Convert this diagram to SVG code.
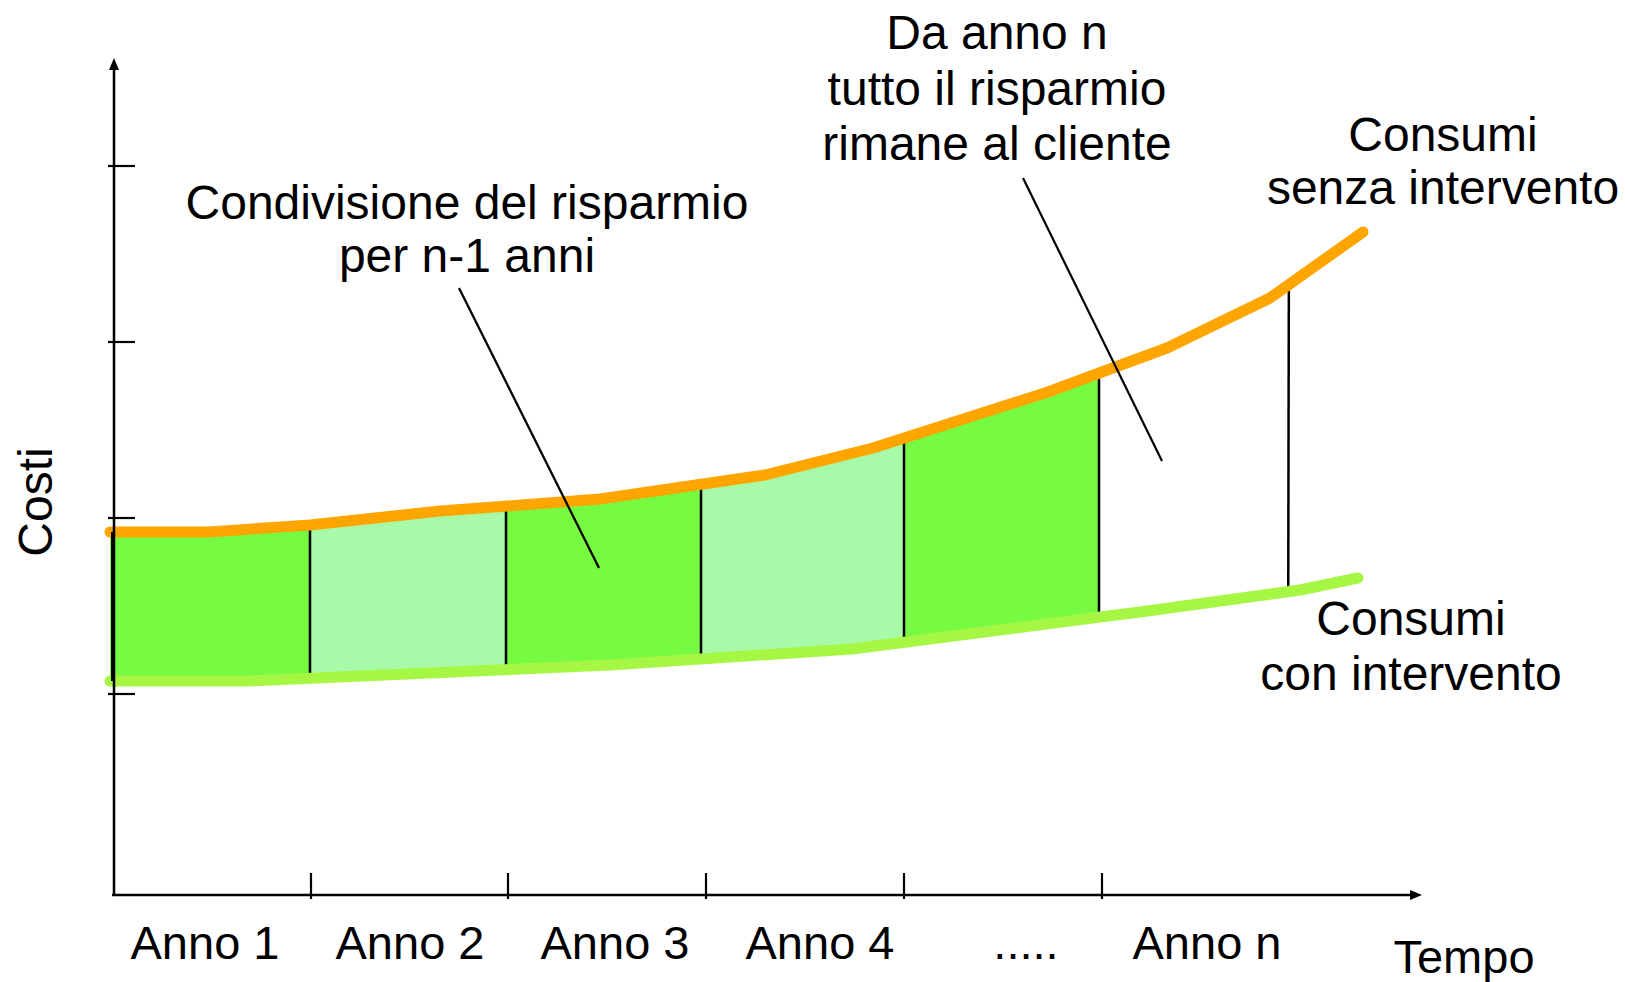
<svg xmlns="http://www.w3.org/2000/svg" width="1625" height="982" viewBox="0 0 1625 982">
<style>
text{font-family:"Liberation Sans",Arial,sans-serif;font-size:48px;fill:#000;text-anchor:middle}
.yr{font-size:47px}
.ax{stroke:#000;stroke-width:2.5;fill:none}
.div{stroke:#000;stroke-width:2.5}
.lead{stroke:#000;stroke-width:2.2}
.bright{fill:#76FA42}
.light{fill:#A7FAA7}
.curve{fill:none;stroke-width:11;stroke-linecap:round;stroke-linejoin:round}
</style>
<defs>
<clipPath id="band">
<polygon points="110,532 208,532 310,525 440,511 508,506 600,499 765,475 873,448 1048,392 1110,369 1167,348 1270,298 1363,232 1358,578 1300,590 1140,612 1100,617 852,649 610,665 247,681 110,681"/>
</clipPath>
</defs>
<rect width="1625" height="982" fill="#fff"/>
<g id="band-fill" clip-path="url(#band)">
<rect class="bright" x="110" y="200" width="200" height="520"/>
<rect class="light" x="310" y="200" width="196" height="520"/>
<rect class="bright" x="506" y="200" width="195" height="520"/>
<rect class="light" x="701" y="200" width="203" height="520"/>
<rect class="bright" x="904" y="200" width="195" height="520"/>
<line class="div" x1="310" y1="200" x2="310" y2="720"/>
<line class="div" x1="506" y1="200" x2="506" y2="720"/>
<line class="div" x1="701" y1="200" x2="701" y2="720"/>
<line class="div" x1="904" y1="200" x2="904" y2="720"/>
<line class="div" x1="1099" y1="200" x2="1099" y2="720"/>
<line class="div" x1="1289" y1="200" x2="1288" y2="720" stroke-width="2"/>
</g>
<g id="curve-senza">
<polyline class="curve" stroke="#FFA500" points="110,532 208,532 310,525 440,511 508,506 600,499 765,475 873,448 1048,392 1110,369 1167,348 1270,298 1363,232"/>
</g>
<g id="curve-con">
<polyline class="curve" stroke="#A6F743" points="110,681 247,681 610,665 852,649 1100,617 1140,612 1300,590 1358,578"/>
</g>
<g id="connectors">
<line class="lead" x1="459" y1="288" x2="599" y2="568"/>
<line class="lead" x1="1023" y1="178" x2="1162" y2="461"/>
</g>
<g id="axes">
<line class="ax" x1="114" y1="895" x2="114" y2="68"/>
<polygon points="114,58 109,70 119,70" fill="#000"/>
<line x1="113" y1="532" x2="113" y2="681" stroke="#000" stroke-width="4"/>
<line class="ax" x1="112" y1="895" x2="1412" y2="895"/>
<polygon points="1422,895 1410,890 1410,900" fill="#000"/>
<g stroke="#000" stroke-width="2.2">
<line x1="108" y1="166" x2="135" y2="166"/>
<line x1="108" y1="342" x2="135" y2="342"/>
<line x1="108" y1="518" x2="135" y2="518"/>
<line x1="108" y1="694" x2="135" y2="694"/>
<line x1="311" y1="873" x2="311" y2="899"/>
<line x1="508" y1="873" x2="508" y2="899"/>
<line x1="706" y1="873" x2="706" y2="899"/>
<line x1="904" y1="873" x2="904" y2="899"/>
<line x1="1102" y1="873" x2="1102" y2="899"/>
</g>
</g>
<g id="labels">
<text x="52" y="502" transform="rotate(-90 52 502)">Costi</text>
<text class="yr" x="205" y="959">Anno 1</text>
<text class="yr" x="410" y="959">Anno 2</text>
<text class="yr" x="615" y="959">Anno 3</text>
<text class="yr" x="820" y="959">Anno 4</text>
<text class="yr" x="1026" y="959">.....</text>
<text class="yr" x="1207" y="959">Anno n</text>
<text class="yr" x="1464" y="973">Tempo</text>
</g>
<g id="note-condivisione">
<text x="467" y="219">Condivisione del risparmio</text>
<text x="467" y="272">per n-1 anni</text>
</g>
<g id="note-anno-n">
<text x="997" y="49">Da anno n</text>
<text x="997" y="105">tutto il risparmio</text>
<text x="997" y="160">rimane al cliente</text>
</g>
<g id="label-senza">
<text x="1443" y="151">Consumi</text>
<text x="1443" y="204">senza intervento</text>
</g>
<g id="label-con">
<text x="1411" y="635">Consumi</text>
<text x="1411" y="690">con intervento</text>
</g>
</svg>
